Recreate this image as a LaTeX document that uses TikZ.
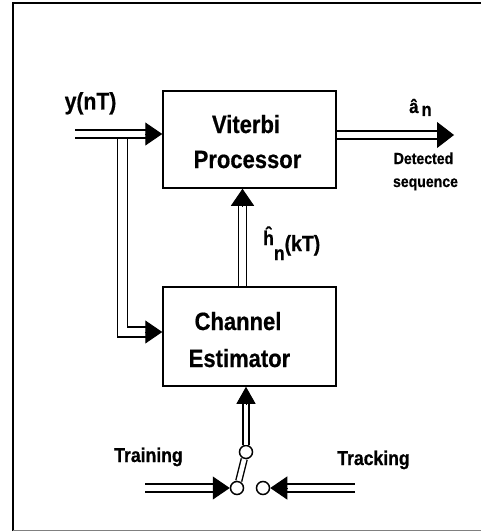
\documentclass[tikz,border=0pt]{standalone}
\usepackage{fontspec}
\newfontfamily\dfont{Liberation Sans}[FakeStretch=0.88,FakeBold=0.6]
\usetikzlibrary{arrows.meta}
\begin{document}
\begin{tikzpicture}[x=1pt,y=-1pt,
  box/.style={draw, line width=1.5pt, minimum width=173pt, inner sep=0pt},
  txt/.style={inner sep=0pt, anchor=base},
  big/.style={txt, font=\dfont\bfseries\fontsize{25}{30}\selectfont},
  mid/.style={txt, font=\dfont\bfseries\fontsize{20}{24}\selectfont},
  small/.style={txt, font=\dfont\bfseries\fontsize{16}{19}\selectfont},
  pipe/.style={double=white, line width=1.5pt, double distance=6.5pt, line join=miter},
  widepipe/.style={pipe, double distance=8.5pt},
  thinpipe/.style={double=white, line width=1.4pt, double distance=4.5pt},
  head/.style={line width=1pt, -{Triangle[length=17pt,width=23pt]}},
  bighead/.style={line width=1pt, -{Triangle[length=17pt,width=26pt]}},
  smallhead/.style={line width=1pt, -{Triangle[length=17pt,width=19pt]}},
  sw/.style={circle, draw, fill=white, line width=1.5pt, minimum size=13pt, inner sep=0pt}
]
\useasboundingbox (0,0) rectangle (481,532);
\clip (0,0) rectangle (481,532);
% frame
\draw[line width=2.5pt] (13,531) -- (13,3) -- (490,3);
\draw[line width=1.2pt, gray] (13,530.5) -- (490,530.5);

% blocks
\node[box, minimum height=97pt] (vit) at (249.5,139.5) {};
\node[box, minimum height=99pt] (est) at (249.5,336.5) {};
\node[big] (vit1) at (246,133) {Viterbi};
\node[big] (vit2) at (247.5,168) {Processor};
\node[big] (est1) at (238,330) {Channel};
\node[big] (est2) at (239.5,367) {Estimator};

% input and branch
\coordinate (inS) at (75,134);
\coordinate (vitIn) at (vit.west |- inS);
\coordinate (brTop) at (122.5,134);
\coordinate (brCorner) at (122.5,332);
\coordinate (estIn) at (est.west |- brCorner);
\draw[widepipe] (brTop) -- (brCorner) -- ([xshift=-15pt]estIn);
\draw[head] ([xshift=-17pt]estIn) -- (estIn);
\draw[pipe] (inS) -- ([xshift=-15pt]vitIn);
\draw[head] ([xshift=-17pt]vitIn) -- (vitIn);
\node[big, font=\dfont\bfseries\fontsize{24}{28}\selectfont] (ylab) at (90.5,109.5) {y(nT)};

% output
\coordinate (vitOut) at (vit.east |- 0,135);
\coordinate (outE) at (454,135);
\draw[pipe] (vitOut) -- ([xshift=-15pt]outE);
\draw[bighead] ([xshift=-17pt]outE) -- (outE);
\node[txt, anchor=base west, font=\dfont\bfseries\fontsize{19}{22}\selectfont] (alab) at (409,113) {â\hspace{3pt}\raisebox{-3pt}{n}};
\node[small] (det1) at (423.5,164) {Detected};
\node[small] (det2) at (425.5,187) {sequence};

% channel estimate to Viterbi
\coordinate (estN) at (est.north -| 242.5,0);
\coordinate (vitS) at (vit.south -| 242.5,0);
\draw[pipe] (estN) -- ([yshift=-15pt]vitS);
\draw[head] ([yshift=-17pt]vitS) -- (vitS);
\node[txt, anchor=base west, font=\dfont\bfseries\fontsize{20}{24}\selectfont] (hlab) at (263,245) {ĥ\raisebox{-15pt}{n}\raisebox{-6pt}{\fontsize{22}{24}\selectfont(kT)}};

% switch
\node[sw] (c1) at (246,452) {};
\node[sw] (c2) at (237,488) {};
\node[sw] (c3) at (263,488) {};
\coordinate (estS) at (est.south -| c1);
\draw[thinpipe] (c1.north) -- ([yshift=-15pt]estS);
\draw[smallhead] ([yshift=-17pt]estS) -- (estS);
\draw[thinpipe] (c1) -- (c2);

\coordinate (trS) at (145,488);
\coordinate (tkS) at (355,488);
\draw[pipe] (trS) -- ([xshift=-15pt]c2.west);
\draw[head] ([xshift=-17pt]c2.west) -- (c2.west);
\draw[pipe] (tkS) -- ([xshift=15pt]c3.east);
\draw[head] ([xshift=17pt]c3.east) -- (c3.east);
\node[mid] (trlab) at (148.5,462) {Training};
\node[mid] (tklab) at (373.5,465) {Tracking};
\end{tikzpicture}
\end{document}
